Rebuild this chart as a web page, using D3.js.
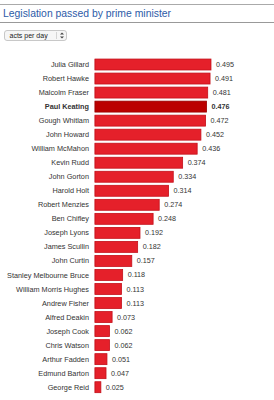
<!DOCTYPE html>
<html>
<head>
  <meta charset="utf-8">
  <title>Legislation passed by prime minister</title>
  <script src="https://d3js.org/d3.v7.min.js"></script>
  <style>
    html, body { margin: 0; padding: 0; background: #fff; }
    body { font-family: "Liberation Sans", Arial, Helvetica, sans-serif; }
    .name { font-size: 7.3px; fill: #333; }
    .val { font-size: 7.2px; fill: #333; }
    .bar { fill: #e5202a; stroke: #c4101a; stroke-width: 0.8px; }
    .bar.hi { fill: #bb0000; stroke: #990000; }
  </style>
</head>
<body>
  <div id="chart"></div>
  <script>
    // prime ministers, sorted by acts per day
    const names = [
      "Julia Gillard", "Robert Hawke", "Malcolm Fraser", "Paul Keating",
      "Gough Whitlam", "John Howard", "William McMahon", "Kevin Rudd",
      "John Gorton", "Harold Holt", "Robert Menzies", "Ben Chifley",
      "Joseph Lyons", "James Scullin", "John Curtin", "Stanley Melbourne Bruce",
      "William Morris Hughes", "Andrew Fisher", "Alfred Deakin", "Joseph Cook",
      "Chris Watson", "Arthur Fadden", "Edmund Barton", "George Reid"
    ];
    const actsPerDay = [
      0.495, 0.491, 0.481, 0.476,
      0.472, 0.452, 0.436, 0.374,
      0.334, 0.314, 0.274, 0.248,
      0.192, 0.182, 0.157, 0.118,
      0.113, 0.113, 0.073, 0.062,
      0.062, 0.051, 0.047, 0.025
    ];
    const highlighted = "Paul Keating";
    const title = "Legislation passed by prime minister";
    const selectLabel = "acts per day";

    const width = 274, height = 400;
    const svg = d3.select("#chart").append("svg")
      .attr("width", width).attr("height", height);

    // header rules + title
    svg.append("line").attr("x1", 0).attr("x2", width)
      .attr("y1", 4.5).attr("y2", 4.5)
      .attr("stroke", "#aaa").attr("stroke-width", 1);
    svg.append("line").attr("x1", 0).attr("x2", width)
      .attr("y1", 22.5).attr("y2", 22.5)
      .attr("stroke", "#999").attr("stroke-width", 1);
    svg.append("text")
      .attr("x", 3).attr("y", 17)
      .attr("font-size", "10.4px")
      .attr("fill", "#2d5ba8")
      .text(title);

    // dropdown look-alike
    const sel = svg.append("g").attr("transform", "translate(4.5,30.5)");
    sel.append("rect").attr("width", 62).attr("height", 10).attr("rx", 2.5)
      .attr("fill", "#f6f6f6").attr("stroke", "#bbb").attr("stroke-width", 0.8);
    sel.append("line").attr("x1", 52).attr("x2", 52).attr("y1", 1.5).attr("y2", 8.5)
      .attr("stroke", "#ccc").attr("stroke-width", 0.8);
    sel.append("text").attr("x", 5).attr("y", 7.3)
      .attr("font-size", "7px").attr("fill", "#222").text(selectLabel);
    sel.append("path").attr("d", "M55.5,4 L57.5,2 L59.5,4 Z M55.5,6 L57.5,8 L59.5,6 Z")
      .attr("fill", "#444");

    // scales
    const x = d3.scaleLinear().domain([0, 0.5]).range([95, 95 + 0.5 * 234.3]);
    const y = d3.scaleBand().domain(names)
      .range([57.5, 57.5 + names.length * 14.03])
      .paddingInner(0.22).paddingOuter(0.11);

    const rows = svg.append("g").selectAll("g")
      .data(names.map((n, i) => ({ name: n, value: actsPerDay[i] })))
      .join("g");

    // faint left shadow on each bar
    rows.append("rect")
      .attr("x", x(0) - 1)
      .attr("y", d => y(d.name))
      .attr("width", 1)
      .attr("height", y.bandwidth())
      .attr("fill", "#f2c4c6");

    rows.append("rect")
      .attr("class", d => d.name === highlighted ? "bar hi" : "bar")
      .attr("x", x(0))
      .attr("y", d => y(d.name))
      .attr("width", d => x(d.value) - x(0))
      .attr("height", y.bandwidth());

    rows.append("text")
      .attr("class", "name")
      .attr("x", x(0) - 6)
      .attr("y", d => y(d.name) + y.bandwidth() / 2)
      .attr("dy", "0.35em")
      .attr("text-anchor", "end")
      .attr("font-weight", d => d.name === highlighted ? "bold" : null)
      .attr("fill", d => d.name === highlighted ? "#111" : null)
      .text(d => d.name);

    rows.append("text")
      .attr("class", "val")
      .attr("x", d => x(d.value) + 5)
      .attr("y", d => y(d.name) + y.bandwidth() / 2)
      .attr("dy", "0.35em")
      .attr("font-weight", d => d.name === highlighted ? "bold" : null)
      .text(d => d3.format(".3f")(d.value));
  </script>
</body>
</html>
